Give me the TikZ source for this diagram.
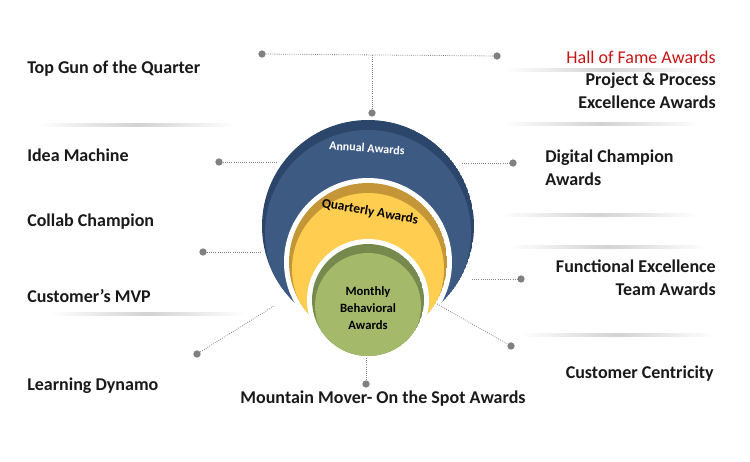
\documentclass[tikz,border=0pt]{standalone}
\usepackage{fontspec}
\setmainfont{Carlito}
\definecolor{anD}{RGB}{44,69,107}
\definecolor{anM}{RGB}{60,90,130}
\definecolor{quD}{RGB}{196,150,55}
\definecolor{quM}{RGB}{255,205,80}
\definecolor{moD}{RGB}{118,138,78}
\definecolor{moM}{RGB}{164,186,106}
\definecolor{hofred}{RGB}{200,20,20}
\begin{document}
\begin{tikzpicture}[x=0.75pt,y=-0.75pt,
  lbl/.style={font=\bfseries\fontsize{13.5}{17}\selectfont,text=black!90,inner sep=0pt},
  dotline/.style={densely dotted,gray,line width=0.6pt},
  pin/.style={circle,fill=gray,inner sep=0pt,minimum size=5.5pt},
  ring/.style={font=\bfseries\fontsize{9}{11}\selectfont}]
\useasboundingbox (0,0) rectangle (750,461);
% separators
\foreach \a/\b/\y in {38/236/125,50/245/314,505/705/70,502/700/124,500/697/215,508/708/247,520/715/335}
  \shade[left color=white,right color=white,middle color=gray!35] (\a,\y-1.2) rectangle (\b,\y+1.2);
% annual
\begin{scope}
\clip (368,226) circle (106);
\fill[anD] (368,226) circle (106);
\fill[anM] (368,233) circle (103);
\end{scope}
\fill[white] (368,262) circle (84);
% quarterly
\begin{scope}
\clip (368,262) circle (79);
\fill[quD] (368,262) circle (79);
\fill[quM] (368,269) circle (76);
\end{scope}
\fill[white] (368,300) circle (61);
% monthly
\begin{scope}
\clip (368,300) circle (56);
\fill[moD] (368,300) circle (56);
\fill[moM] (368,306) circle (53);
\end{scope}
\node[ring,text=white,rotate=-4] (annual) at (367,148) {Annual Awards};
\node[ring,text=black,font=\bfseries\fontsize{10}{12}\selectfont,rotate=-10] (quarterly) at (370,212) {Quarterly Awards};
\node[ring,align=center,font=\bfseries\fontsize{9.5}{13}\selectfont] (monthly) at (368,308) {Monthly\\Behavioral\\Awards};
% labels
\node[lbl,anchor=west] (topgun) at (27,69) {Top Gun of the Quarter};
\node[lbl,anchor=west] (idea) at (27,155) {Idea Machine};
\node[lbl,anchor=west] (collab) at (27,222) {Collab Champion};
\node[lbl,anchor=west] (mvp) at (27,296) {Customer’s MVP};
\node[lbl,anchor=west] (learn) at (27,386) {Learning Dynamo};
\node[lbl,anchor=east,font=\fontsize{13.5}{17}\selectfont,text=hofred] (hof) at (716,57) {Hall of Fame Awards};
\node[lbl,anchor=north east,align=right] (proj) at (716,73) {Project \& Process\\Excellence Awards};
\node[lbl,anchor=north west,align=left] (digital) at (545,150) {Digital Champion\\Awards};
\node[lbl,anchor=north east,align=right] (func) at (716,260) {Functional Excellence\\Team Awards};
\node[lbl,anchor=east] (cc) at (714,374) {Customer Centricity};
\node[lbl] (mm) at (383,399) {Mountain Mover- On the Spot Awards};
% connectors
\node[pin] (pA) at (262,54) {};
\node[pin] (pB) at (497,56) {};
\node[pin] (pC) at (372,113) {};
\coordinate (jt) at (372,55);
\draw[dotline] (pA) -- (pB);
\draw[dotline] (jt) -- (pC);
\node[pin] (pI) at (219,162) {}; \coordinate (eI) at (278,162);
\draw[dotline] (pI) -- (eI);
\node[pin] (pCo) at (203,252) {}; \coordinate (eCo) at (262,252);
\draw[dotline] (pCo) -- (eCo);
\node[pin] (pM) at (197,354) {}; \coordinate (eM) at (274,306);
\draw[dotline] (pM) -- (eM);
\node[pin] (pD) at (513,163) {}; \coordinate (eD) at (462,163);
\draw[dotline] (eD) -- (pD);
\node[pin] (pF) at (521,279) {}; \coordinate (eF) at (472,279);
\draw[dotline] (eF) -- (pF);
\node[pin] (pCC) at (511,346) {}; \coordinate (eCC) at (437,304);
\draw[dotline] (eCC) -- (pCC);
\node[pin] (pMM) at (366,384) {}; \coordinate (eMM) at (366,358);
\draw[dotline] (eMM) -- (pMM);
\end{tikzpicture}
\end{document}
